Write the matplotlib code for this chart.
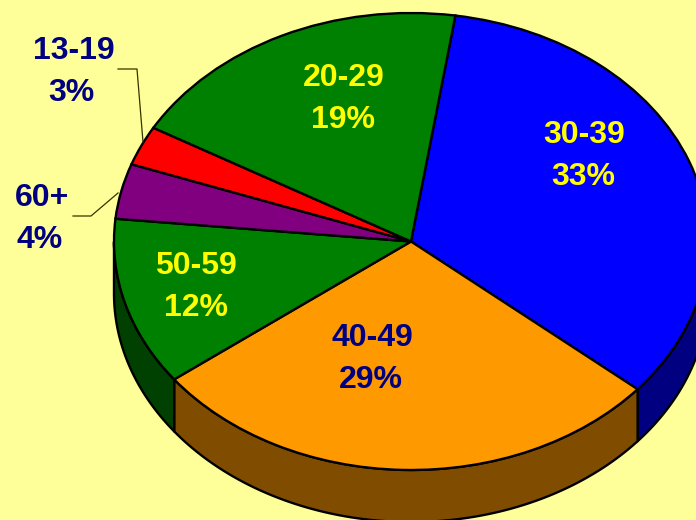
import numpy as np
import matplotlib
matplotlib.use('Agg')
import matplotlib.pyplot as plt

# shares, clockwise from the 30-39 slice
groups = ['30-39', '40-49', '50-59', '60+', '13-19', '20-29']
shares = [33.8, 28.5, 11.9, 3.9, 2.8, 19.1]
pct_labels = ['33%', '29%', '12%', '4%', '3%', '19%']
top_colors = ['#0000FF', '#FF9900', '#008000', '#800080', '#FF0000', '#008000']
side_colors = ['#000080', '#804D00', '#004000', '#400040', '#800000', '#004000']
text_colors = ['#FFFF00', '#000080', '#FFFF00', '#000080', '#000080', '#FFFF00']

# label centres in pixels (group line, percent line)
label_x = [584, 372, 196, 42, 74, 344]
label_y = [135, 338, 266, 198, 51, 78]
pct_x = [583, 371, 196, 40, 71, 343]
pct_y = [177, 380, 308, 240, 93, 120]

W, H = 696, 520
bg = '#FFFF99'
cx, cy = 411, 241.5
rx, ry = 297, 228.5
depth = 52 / ry
start = 81.4

fig = plt.figure(figsize=(W / 100, H / 100), dpi=100, facecolor=bg)
ax = fig.add_axes([(cx - rx) / W, 1 - (cy + ry) / H, 2 * rx / W, 2 * ry / H])

# side wall, only the part of each slice on the front of the pie
a0 = start
for share, col in zip(shares, side_colors):
    a1 = a0 - share * 3.6
    th = np.radians(np.linspace(a0, a1, 200))
    th = th[np.sin(th) <= 0]
    if len(th) > 1:
        xs = np.cos(th)
        ys = np.sin(th)
        ax.fill(np.r_[xs, xs[::-1]], np.r_[ys, ys[::-1] - depth],
                facecolor=col, edgecolor='black', lw=1.7, zorder=1,
                joinstyle='round', clip_on=False)
    a0 = a1

wedges, _ = ax.pie(shares, colors=top_colors, startangle=start, counterclock=False,
                   radius=1, center=(0, 0), normalize=True,
                   wedgeprops=dict(edgecolor='black', linewidth=1.7, zorder=2, clip_on=False))
ax.set_aspect('auto')
ax.set_xlim(-1, 1)
ax.set_ylim(-1, 1)
ax.axis('off')

plt.rcParams['font.family'] = ['Liberation Sans', 'DejaVu Sans']
for i in range(len(groups)):
    fig.text(label_x[i] / W, 1 - label_y[i] / H, groups[i], color=text_colors[i],
             fontsize=23, fontweight='bold', ha='center', va='center')
    fig.text(pct_x[i] / W, 1 - pct_y[i] / H, pct_labels[i], color=text_colors[i],
             fontsize=23, fontweight='bold', ha='center', va='center')

# leader lines for the two small slices
leader_x = [[118, 137, 143], [73, 91, 118]]
leader_y = [[69, 69, 142], [216, 216, 193]]
for lx, ly in zip(leader_x, leader_y):
    fig.add_artist(plt.Line2D(np.array(lx) / W, 1 - np.array(ly) / H, color='#333300', lw=0.9))

fig.savefig('out.png', dpi=100, facecolor=bg)
